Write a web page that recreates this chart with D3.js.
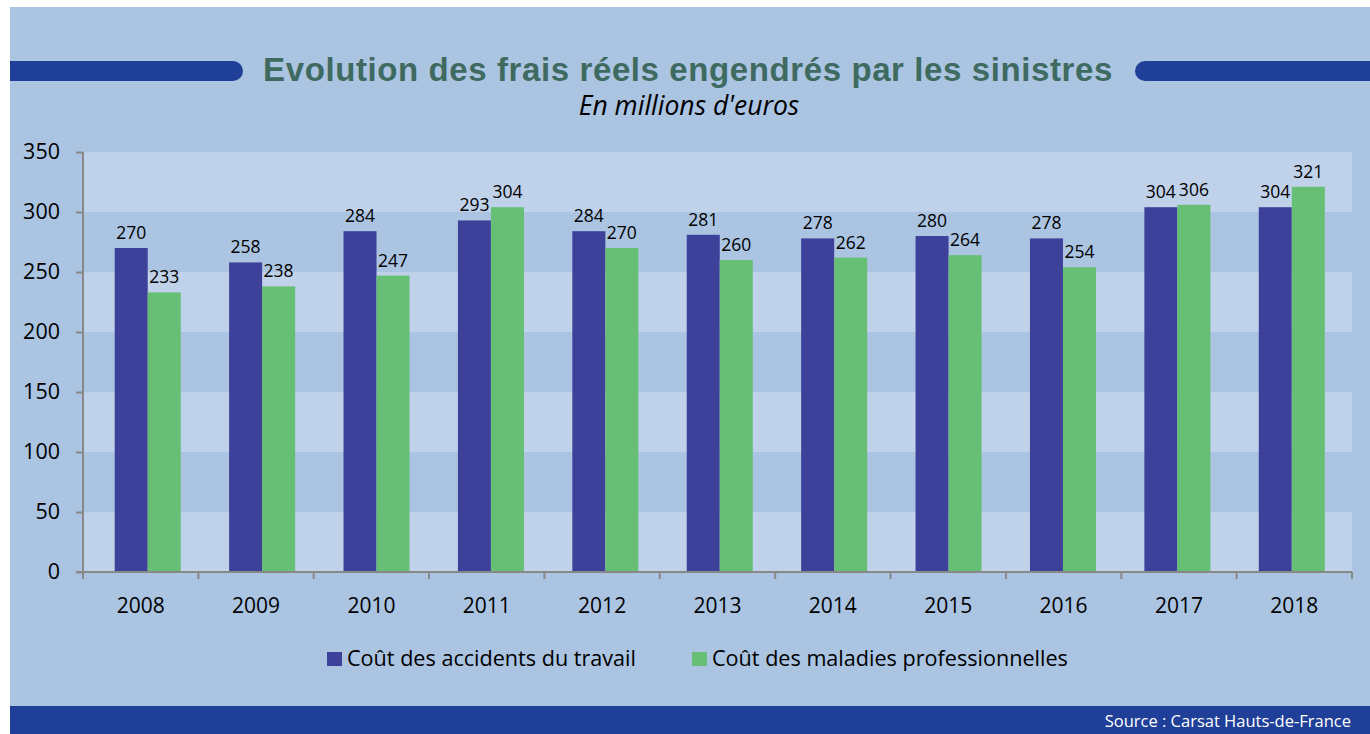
<!DOCTYPE html>
<html><head><meta charset="utf-8">
<script src="https://cdn.jsdelivr.net/npm/d3@7"></script>
<style>html,body{margin:0;padding:0;background:#fff;}svg{display:block;}</style>
</head><body>
<svg id="c" width="1370" height="734"></svg>
<script>
const years = ["2008","2009","2010","2011","2012","2013","2014","2015","2016","2017","2018"];
const accidents = [270,258,284,293,284,281,278,280,278,304,304];
const maladies = [233,238,247,304,270,260,262,264,254,306,321];
const seriesNames = ["Coût des accidents du travail","Coût des maladies professionnelles"];
const seriesColors = ["#3E419A","#66BF74"];
const yTicks = [0,50,100,150,200,250,300,350];
const titleText = "Evolution des frais réels engendrés par les sinistres";
const subtitleText = "En millions d'euros";
const sourceText = "Source : Carsat Hauts-de-France";

(function(){
const svg = d3.select("#c");
const font = "'Open Sans', Lato, sans-serif";

// background
svg.append("rect").attr("x",10).attr("y",7).attr("width",1360).attr("height",727).attr("fill","#AAC4E2");

// title bars
svg.append("path").attr("d", "M10,61 H233 A10,10 0 0 1 233,81 H10 Z").attr("fill","#1F3F98");
svg.append("path").attr("d", "M1370,61 H1145 A10,10 0 0 0 1145,81 H1370 Z").attr("fill","#1F3F98");

svg.append("text").attr("x",688).attr("y",81).attr("text-anchor","middle")
  .attr("font-family","'Liberation Sans', Arial, sans-serif").attr("font-weight","bold")
  .attr("font-size",33).attr("letter-spacing",0.6).attr("fill","#3F6A5F").text(titleText);
svg.append("text").attr("x",689).attr("y",115).attr("text-anchor","middle")
  .attr("font-family",font).attr("font-style","italic")
  .attr("font-size",26.5).attr("fill","#000").text(subtitleText);

// footer
svg.append("rect").attr("x",10).attr("y",706).attr("width",1360).attr("height",28).attr("fill","#1F3F98");
svg.append("text").attr("x",1351).attr("y",727).attr("text-anchor","end")
  .attr("font-family",font).attr("font-size",16.5).attr("fill","#fff").text(sourceText);

// scales
const pl = 83, pr = 1352, pt = 152, pb = 572;
const x0 = d3.scaleBand().domain(years).range([pl,pr]).paddingInner(0).paddingOuter(0);
const xb = d3.scaleBand().domain(years).range([90.5,1349]).paddingInner(0).paddingOuter(0);
const x1 = d3.scaleBand().domain([0,1]).range([0,xb.bandwidth()]).paddingInner(0).paddingOuter(0.733);
const y = d3.scaleLinear().domain([0,350]).range([pb,pt]);

// bands
const g = svg.append("g");
g.selectAll("rect.band").data(d3.range(yTicks.length-1)).join("rect")
  .attr("x",pl).attr("width",pr-pl)
  .attr("y",i=>y(yTicks[i+1])).attr("height",i=>y(yTicks[i])-y(yTicks[i+1]))
  .attr("fill",i=> i%2===0 ? "#C0D1EA" : "#AAC4E2");

// bars
const data = years.map((yr,i)=>({yr, vals:[accidents[i], maladies[i]]}));
const groups = g.selectAll("g.grp").data(data).join("g").attr("transform",d=>`translate(${xb(d.yr)},0)`);
groups.selectAll("rect").data(d=>d.vals.map((v,k)=>({v,k}))).join("rect")
  .attr("x",d=>x1(d.k)).attr("width",x1.bandwidth())
  .attr("y",d=>y(d.v)).attr("height",d=>y(0)-y(d.v))
  .attr("fill",d=>seriesColors[d.k]);
groups.selectAll("text").data(d=>d.vals.map((v,k)=>({v,k}))).join("text")
  .attr("x",d=>x1(d.k)+x1.bandwidth()/2).attr("y",d=>y(d.v)-9)
  .attr("text-anchor","middle").attr("font-family",font).attr("font-size",17.5).attr("fill","#000")
  .text(d=>d.v);

// y axis
const yAxis = d3.axisLeft(y).tickValues(yTicks).tickSize(7).tickPadding(16);
const ya = svg.append("g").attr("transform",`translate(${pl},0)`).call(yAxis);
ya.select(".domain").attr("stroke","#888").attr("stroke-width",2).attr("d",`M0,${pt}V${pb}`);
ya.selectAll(".tick line").attr("stroke","#888").attr("stroke-width",2);
ya.selectAll(".tick text").attr("font-family",font).attr("font-size",21.5).attr("fill","#000");

// x axis
const xa = svg.append("g").attr("transform",`translate(0,${pb})`);
xa.append("line").attr("x1",pl-7).attr("x2",pr).attr("y1",0).attr("y2",0).attr("stroke","#888").attr("stroke-width",2);
const bounds = years.map(d=>x0(d)).concat([pr]);
xa.selectAll("line.t").data(bounds).join("line").attr("class","t")
  .attr("x1",d=>d).attr("x2",d=>d).attr("y1",0).attr("y2",7).attr("stroke","#888").attr("stroke-width",2);
xa.selectAll("text").data(years).join("text")
  .attr("x",d=>x0(d)+x0.bandwidth()/2).attr("y",41).attr("text-anchor","middle")
  .attr("font-family",font).attr("font-size",21).attr("fill","#000").text(d=>d);

// legend
const legX = [327, 692];
const leg = svg.append("g");
seriesNames.forEach((n,i)=>{
  leg.append("rect").attr("x",legX[i]).attr("y",652).attr("width",15).attr("height",14).attr("fill",seriesColors[i]);
  leg.append("text").attr("x",legX[i]+20).attr("y",666).attr("font-family",font).attr("font-size",21.6).attr("fill","#000").text(n);
});
})();
</script>
</body></html>
